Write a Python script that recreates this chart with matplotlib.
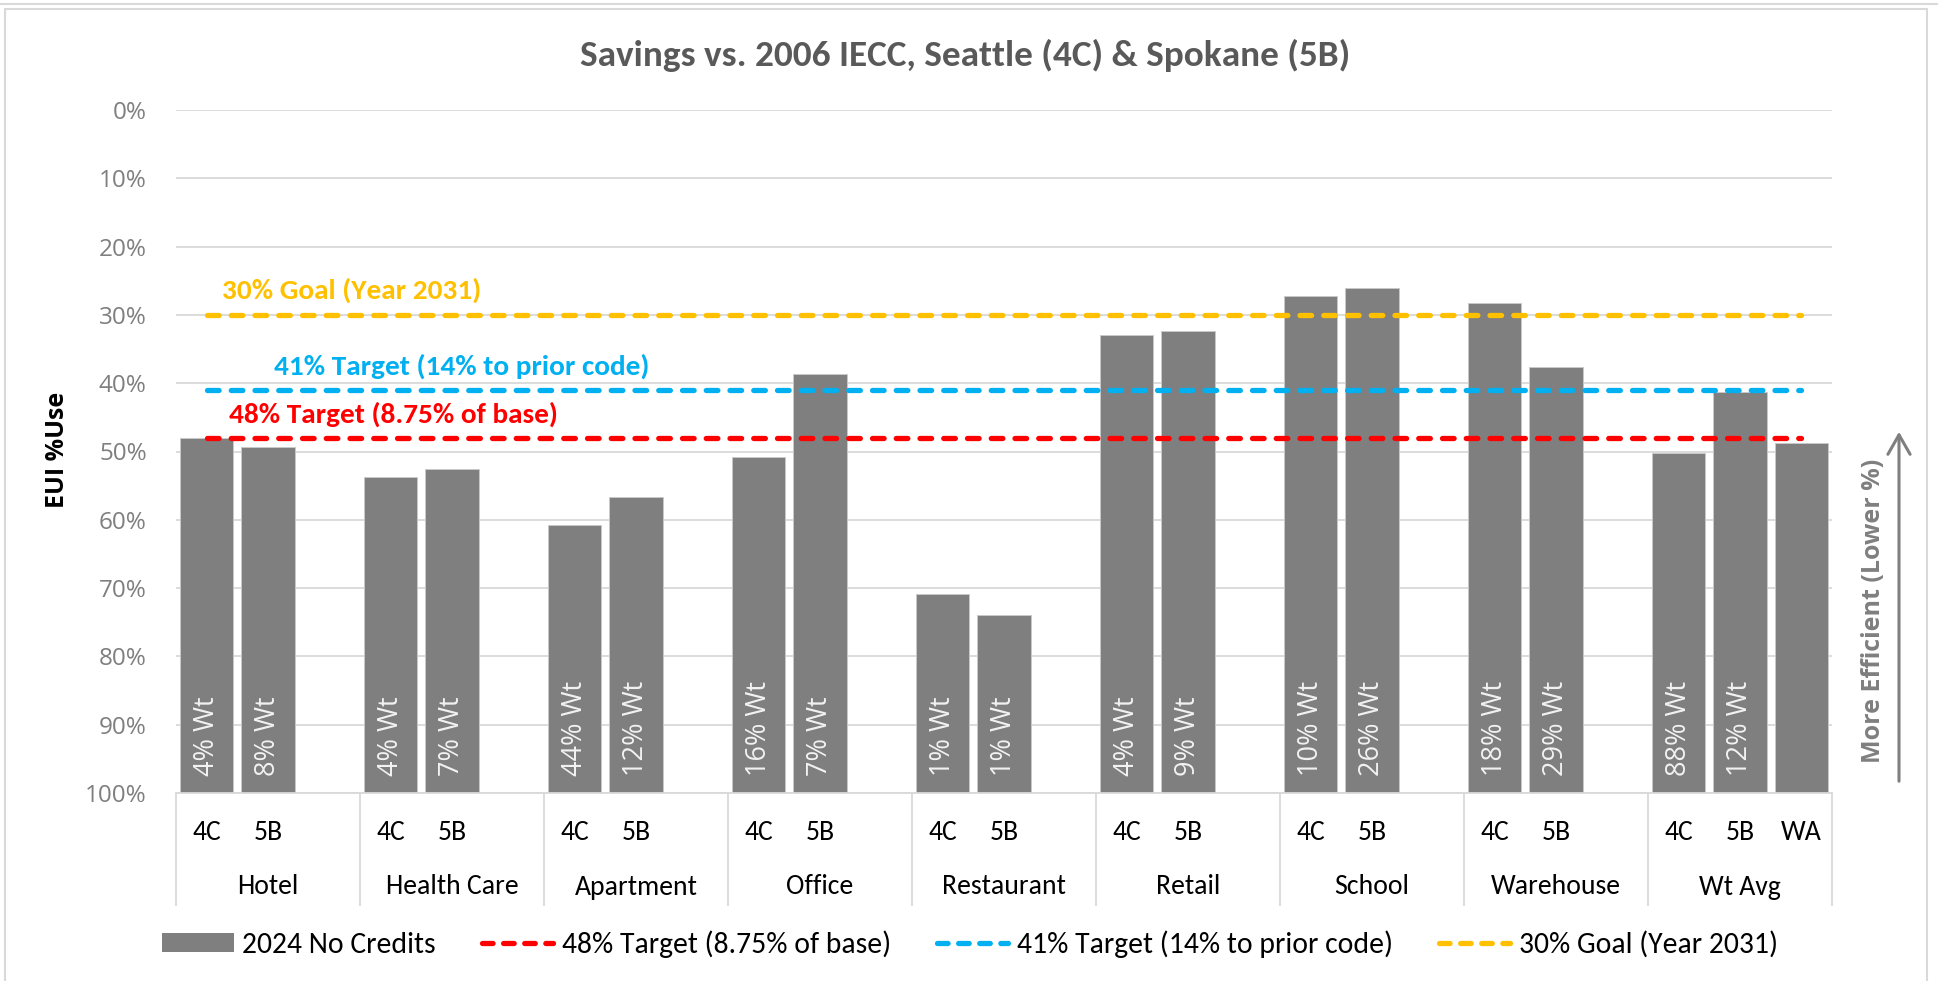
import numpy as np
import matplotlib
matplotlib.use("Agg")
import matplotlib.pyplot as plt
import matplotlib.font_manager as fm
from matplotlib.patches import Patch, Rectangle, FancyArrowPatch
from matplotlib.lines import Line2D
import matplotlib.transforms as mtransforms

# ---------------- data ----------------
groups = ['Hotel', 'Health Care', 'Apartment', 'Office', 'Restaurant',
          'Retail', 'School', 'Warehouse', 'Wt Avg']
zones = ['4C', '5B']
wa_label = 'WA'
eui_4c = [48.0, 53.8, 60.8, 50.8, 70.8, 32.9, 27.2, 28.3, 50.2]
eui_5b = [49.3, 52.6, 56.7, 38.6, 73.9, 32.4, 26.1, 37.7, 41.3]
eui_wa = 48.8
wt_4c = ['4% Wt', '4% Wt', '44% Wt', '16% Wt', '1% Wt', '4% Wt', '10% Wt', '18% Wt', '88% Wt']
wt_5b = ['8% Wt', '7% Wt', '12% Wt', '7% Wt', '1% Wt', '9% Wt', '26% Wt', '29% Wt', '12% Wt']
target_48 = 48.0
target_41 = 41.0
goal_30 = 30.0
yticks = [0, 10, 20, 30, 40, 50, 60, 70, 80, 90, 100]
ytick_labels = [f'{t}%' for t in yticks]
title = 'Savings vs. 2006 IECC, Seattle (4C) & Spokane (5B)'
legend_labels = ['2024 No Credits', '48% Target (8.75% of base)',
                 '41% Target (14% to prior code)', '30% Goal (Year 2031)']

# ---------------- fonts ----------------
names = {f.name for f in fm.fontManager.ttflist}
CAL = 'Carlito' if 'Carlito' in names else 'Lato'
cs = 1.11 if CAL == 'Carlito' else 1.0
SEG = 'Open Sans' if 'Open Sans' in names else 'DejaVu Sans'
plt.rcParams['font.family'] = [CAL, 'DejaVu Sans']

W, H = 1938, 981
fig = plt.figure(figsize=(W / 100, H / 100), dpi=100)
fig.patch.set_facecolor('white')

def fx(px):
    return px / W

def fy(py):
    return 1 - py / H

left, right, top, bottom = 176, 1832, 110, 793
ax = fig.add_axes([fx(left), fy(bottom), (right - left) / W, (bottom - top) / H])

# slots: 3 per group
n_groups = len(groups)
slots_per_group = 3
n_slots = n_groups * slots_per_group
x4c = np.arange(n_groups) * slots_per_group
x5b = x4c + 1
xwa = (n_groups - 1) * slots_per_group + 2

bar_color = '#7f7f7f'
bw = 0.865
bar_kw = dict(width=bw, color=bar_color, edgecolor='#c9c9c9', linewidth=0.7, zorder=2)
ax.bar(x4c, [100 - v for v in eui_4c], bottom=eui_4c, **bar_kw)
ax.bar(x5b, [100 - v for v in eui_5b], bottom=eui_5b, **bar_kw)
ax.bar([xwa], [100 - eui_wa], bottom=[eui_wa], **bar_kw)

# bar labels
for xs, labs in ((x4c, wt_4c), (x5b, wt_5b)):
    for xv, lab in zip(xs, labs):
        ax.annotate(lab, xy=(xv, 100), xytext=(0, 17), textcoords='offset pixels',
                    rotation=90, ha='center', va='bottom', color='#f2f2f2',
                    fontsize=19.5, family=SEG, zorder=4)

# target lines
slots = np.arange(n_slots)
line_kw = dict(lw=3.8, dashes=(2.2, 2.3), dash_capstyle='round', zorder=3)
c_red, c_blue, c_yel = '#FF0000', '#00B0F0', '#FFC000'
ax.plot(slots, np.full(n_slots, target_48), color=c_red, **line_kw)
ax.plot(slots, np.full(n_slots, target_41), color=c_blue, **line_kw)
ax.plot(slots, np.full(n_slots, goal_30), color=c_yel, **line_kw)

ax.text(0.25, 26.4, legend_labels[3], color=c_yel, fontsize=19 * cs, fontweight='bold',
        ha='left', va='center', zorder=5)
ax.text(1.10, 37.5, legend_labels[2], color=c_blue, fontsize=19 * cs, fontweight='bold',
        ha='left', va='center', zorder=5)
ax.text(0.364, 44.5, legend_labels[1], color=c_red, fontsize=19 * cs, fontweight='bold',
        ha='left', va='center', zorder=5)

# axes styling
ax.set_xlim(-0.5, n_slots - 0.5)
ax.set_ylim(100, 0)
ax.set_yticks(yticks)
ax.set_yticklabels(ytick_labels, family=SEG, fontsize=17.5, color='#7f7f7f')
ax.tick_params(axis='y', length=0, pad=21)
ax.set_xticks([])
for s in ('left', 'right', 'top'):
    ax.spines[s].set_visible(False)
ax.spines['bottom'].set_color('#d9d9d9')
ax.spines['bottom'].set_linewidth(1.3)
ax.yaxis.grid(True, color='#d9d9d9', lw=1.3, zorder=0)
ax.set_axisbelow(True)

# multi-level category axis
trans = mtransforms.blended_transform_factory(ax.transData, ax.transAxes)
sep_bottom = -(905 - bottom) / (bottom - top)
for g in range(n_groups + 1):
    xs = g * slots_per_group - 0.5
    ax.plot([xs, xs], [0, sep_bottom], transform=trans, color='#d9d9d9', lw=1.3,
            clip_on=False)
row1 = -(832 - bottom) / (bottom - top)
row2 = -(887 - bottom) / (bottom - top)
for g, name in enumerate(groups):
    for k, z in enumerate(zones):
        ax.text(g * slots_per_group + k, row1, z, transform=trans, ha='center', va='center',
                fontsize=18 * cs, color='#000000')
    ax.text(g * slots_per_group + 1, row2, name, transform=trans, ha='center', va='center',
            fontsize=18 * cs, color='#000000')
ax.text(xwa, row1, wa_label, transform=trans, ha='center', va='center',
        fontsize=18 * cs, color='#000000')

# title and side labels
fig.text(fx(965), fy(55), title, ha='center', va='center', fontsize=24.2 * cs,
         fontweight='bold', color='#595959')
fig.text(fx(57), fy(450), 'EUI %Use', rotation=90, ha='center', va='center',
         fontsize=18, fontweight='bold', family=SEG, color='#000000')
fig.text(fx(1873), fy(611), 'More Efficient (Lower %)', rotation=90, ha='center',
         va='center', fontsize=18.0, fontweight='bold', family=SEG, color='#7f7f7f')
arrow = FancyArrowPatch((fx(1899), fy(784)), (fx(1899), fy(429)), transform=fig.transFigure,
                        arrowstyle='->,head_length=0.7,head_width=0.4', mutation_scale=20,
                        color='#7f7f7f', lw=2.2)
fig.add_artist(arrow)

# legend
lh_kw = dict(lw=3.8, dashes=(2.0, 2.0), dash_capstyle='round')
handles = [Patch(facecolor=bar_color, edgecolor='none'),
           Line2D([], [], color=c_red, **lh_kw),
           Line2D([], [], color=c_blue, **lh_kw),
           Line2D([], [], color=c_yel, **lh_kw)]
fig.legend(handles, legend_labels, loc='center', bbox_to_anchor=(fx(970), fy(944)), ncol=4,
           frameon=False, prop={'family': CAL, 'size': 19.2 * cs}, handlelength=2.4,
           handletextpad=0.3, columnspacing=1.55, handleheight=0.65)

# chart frame
fig.add_artist(Line2D([0, 1], [fy(4), fy(4)], transform=fig.transFigure, color='#d9d9d9', lw=1.5))
fig.add_artist(Rectangle((fx(5), fy(985)), fx(1927) - fx(5), fy(9) - fy(985),
                         transform=fig.transFigure, fill=False, edgecolor='#d9d9d9', lw=1.5))

fig.savefig('out.png', dpi=100, facecolor='white')
